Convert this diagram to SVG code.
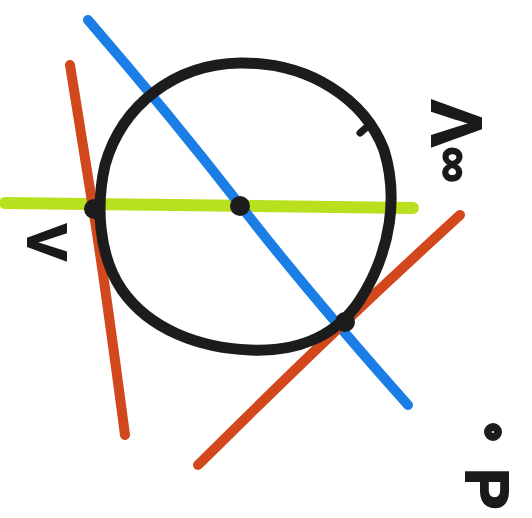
<svg xmlns="http://www.w3.org/2000/svg" width="532" height="518" viewBox="0 0 532 518">
<style>
.ln{fill:none;stroke-linecap:round;stroke-linejoin:round}
.lbl{font-family:"Liberation Sans",Arial,sans-serif;font-weight:bold;fill:#1a1a1a;stroke:#1a1a1a;stroke-width:2}
</style>
<rect width="532" height="518" fill="#ffffff"/>
<g id="lines">
<path class="ln" d="M5,203 L413,208" stroke="#b9e01e" stroke-width="12"/>
<path class="ln" d="M88,20 Q170,115 240,205 T408,405" stroke="#1a7ee6" stroke-width="10"/>
<path class="ln" d="M70,65 Q82,140 93,208 T125,435" stroke="#d2481c" stroke-width="10"/>
<path class="ln" d="M460,215 Q400,270 345,322 T198,465" stroke="#d2481c" stroke-width="10"/>
</g>
<g id="circle">
<path class="ln" stroke="#1c1c1c" stroke-width="11" d="M240,63 C310,62 365,100 384,150 C398,195 392,250 360,300 C335,338 295,352 250,350 C200,348 150,330 122,290 C98,255 96,205 105,165 C122,105 175,64 240,63 Z"/>
<path class="ln" stroke="#1c1c1c" stroke-width="7" d="M360,133 L368,126"/>
</g>
<g id="points">
<circle cx="94" cy="209" r="10" fill="#1c1c1c"/>
<circle cx="240" cy="206" r="10" fill="#1c1c1c"/>
<circle cx="345" cy="322" r="10" fill="#1c1c1c"/>
<circle cx="493" cy="432" r="5" fill="#fff" stroke="#1c1c1c" stroke-width="8"/>
</g>
<g id="labels">
<text class="lbl" transform="translate(432,100) rotate(90)" font-size="70">Λ<tspan font-size="50" dy="-6">∞</tspan></text>
<text class="lbl" transform="translate(28,224) rotate(90)" font-size="55">V</text>
<text class="lbl" transform="translate(466,468) rotate(90)" font-size="62">P</text>
</g>
</svg>
